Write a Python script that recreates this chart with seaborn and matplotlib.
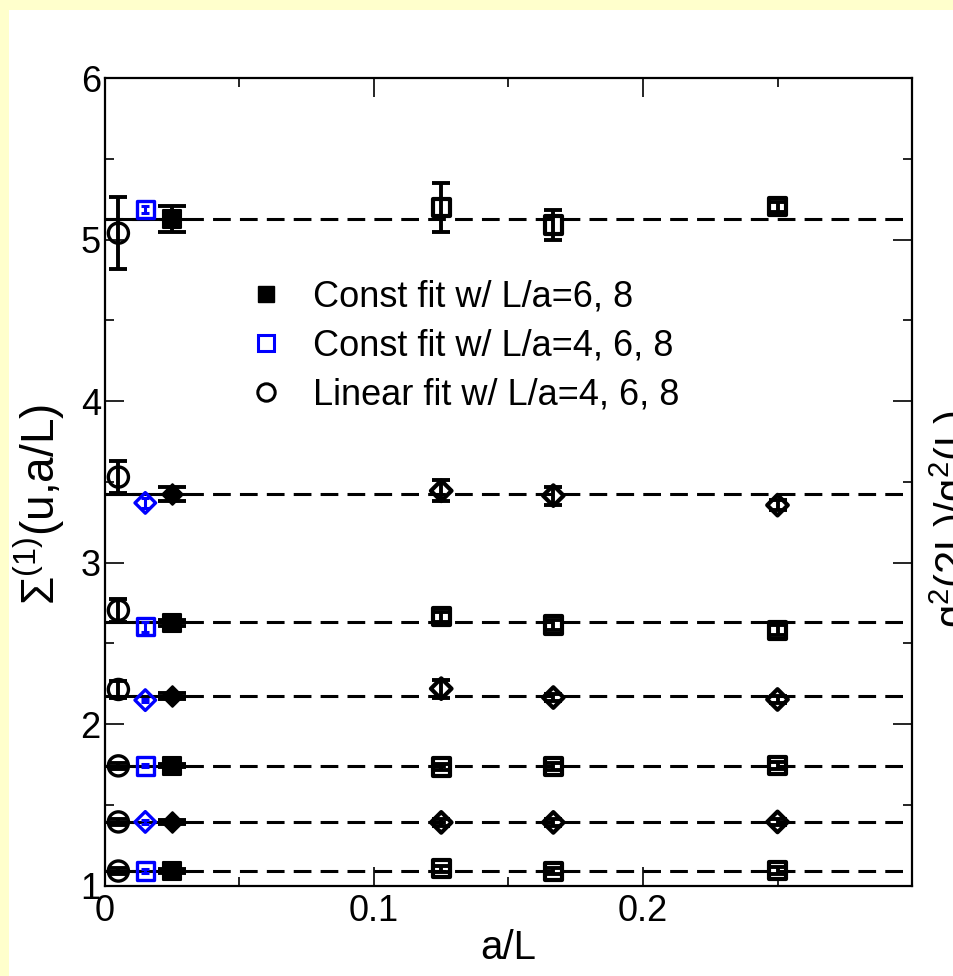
import numpy as np
import pandas as pd
import seaborn as sns
import matplotlib
matplotlib.use('Agg')
import matplotlib.pyplot as plt
from matplotlib.patches import Rectangle
from matplotlib.ticker import MultipleLocator

# x positions of the extrapolated points and of the lattice sizes
x_lin = 0.005
x_c468 = 0.015
x_c68 = 0.025
x_aL = [1 / 8, 1 / 6, 1 / 4]

# constant-fit values (dashed lines), one per coupling
fit_line = [5.125, 3.424, 2.630, 2.173, 1.742, 1.395, 1.091]

# linear fit w/ L/a=4,6,8
lin_val = [5.04, 3.53, 2.705, 2.215, 1.742, 1.395, 1.091]
lin_err = [0.223, 0.10, 0.07, 0.055, 0.02, 0.02, 0.02]

# const fit w/ L/a=4,6,8 (blue)
c468_val = [5.185, 3.37, 2.603, 2.149, 1.742, 1.395, 1.091]
c468_err = [0.02, 0.03, 0.03, 0.01, 0.01, 0.01, 0.01]

# const fit w/ L/a=6,8 (filled)
c68_val = [5.125, 3.424, 2.627, 2.173, 1.742, 1.395, 1.091]
c68_err = [0.08, 0.045, 0.02, 0.02, 0.01, 0.01, 0.01]

# lattice data at a/L = 1/8, 1/6, 1/4
sigma_val = [
    [5.20, 5.09, 5.203],
    [3.445, 3.415, 3.356],
    [2.665, 2.613, 2.582],
    [2.22, 2.165, 2.153],
    [1.735, 1.738, 1.745],
    [1.392, 1.392, 1.395],
    [1.105, 1.09, 1.094],
]
sigma_err = [
    [0.15, 0.095, 0.03],
    [0.065, 0.055, 0.03],
    [0.03, 0.03, 0.03],
    [0.055, 0.02, 0.02],
    [0.02, 0.02, 0.02],
    [0.02, 0.02, 0.02],
    [0.02, 0.02, 0.02],
]
row_marker = ['s', 'D', 's', 'D', 's', 'D', 's']

sns.set_style('ticks')
plt.rcParams['font.family'] = ['Liberation Sans', 'DejaVu Sans']
plt.rcParams['mathtext.fontset'] = 'custom'
plt.rcParams['mathtext.rm'] = 'Liberation Sans'
plt.rcParams['mathtext.it'] = 'Liberation Sans:italic'
plt.rcParams['font.size'] = 26
plt.rcParams['text.color'] = 'black'
plt.rcParams['axes.labelcolor'] = 'black'
plt.rcParams['xtick.color'] = 'black'
plt.rcParams['ytick.color'] = 'black'

fig = plt.figure(figsize=(9.54, 9.76), dpi=100, facecolor='#FFFFCC')
fig.patches.append(Rectangle((9 / 954, 0), 1, 1 - 10 / 976, transform=fig.transFigure,
                             facecolor='white', edgecolor='none', zorder=-10))
ax = fig.add_axes([0.110, 0.0925, 0.846, 0.8275])

BLUE = '#0000FF'
rows = []
for i in range(len(fit_line)):
    for xv, yv in zip(x_aL, sigma_val[i]):
        rows.append({'x': xv, 'y': yv, 'row': i})
df = pd.DataFrame(rows)

for i, fv in enumerate(fit_line):
    ax.plot([0, 0.3], [fv, fv], color='black', lw=2.2, ls=(0, (5.8, 3.0)), zorder=1)
    ax.plot([0, 0.03], [fv, fv], color='black', lw=2.2, zorder=1)
    m = row_marker[i]
    ms = 12.5 if m == 's' else 10.5

    # lattice data, open black markers
    ax.errorbar(x_aL, sigma_val[i], yerr=sigma_err[i], fmt='none', ecolor='black',
                elinewidth=2.8, capsize=6.5, capthick=2.8, zorder=2)
    sns.scatterplot(data=df[df['row'] == i], x='x', y='y', marker=m, s=ms ** 2,
                    facecolor='none', edgecolor='black', linewidth=3.0, ax=ax,
                    zorder=3, legend=False)

    # linear fit extrapolation
    ax.errorbar([x_lin], [lin_val[i]], yerr=[lin_err[i]], fmt='none', ecolor='black',
                elinewidth=2.8, capsize=6.5, capthick=2.8, zorder=2)
    sns.scatterplot(x=[x_lin], y=[lin_val[i]], marker='o', s=14.5 ** 2, facecolor='none',
                    edgecolor='black', linewidth=2.4, ax=ax, zorder=3, legend=False)

    # const fit 4,6,8 (blue)
    ax.errorbar([x_c468], [c468_val[i]], yerr=[c468_err[i]], fmt='none', ecolor=BLUE,
                elinewidth=2.2, capsize=3, capthick=2.2, zorder=2)
    sns.scatterplot(x=[x_c468], y=[c468_val[i]], marker=m, s=ms ** 2, facecolor='none',
                    edgecolor=BLUE, linewidth=2.4, ax=ax, zorder=3, legend=False)

    # const fit 6,8 (filled)
    ax.errorbar([x_c68], [c68_val[i]], yerr=[c68_err[i]], fmt='none', ecolor='black',
                elinewidth=2.8, capsize=10, capthick=2.8, zorder=2)
    sns.scatterplot(x=[x_c68], y=[c68_val[i]], marker=m, s=ms ** 2, color='black',
                    edgecolor='black', linewidth=1.5, ax=ax, zorder=3, legend=False)

# legend
h1 = ax.plot([], [], 's', ms=12, color='black', label='Const fit w/ L/a=6, 8')[0]
h2 = ax.plot([], [], 's', ms=11.5, mfc='none', mec=BLUE, mew=2.2, label='Const fit w/ L/a=4, 6, 8')[0]
h3 = ax.plot([], [], 'o', ms=12.5, mfc='none', mec='black', mew=2.2, label='Linear fit w/ L/a=4, 6, 8')[0]
ax.legend(handles=[h1, h2, h3], loc='upper left', bbox_to_anchor=(0.177, 0.750),
          frameon=False, fontsize=26, handlelength=1.0, handletextpad=0.8,
          borderpad=0, borderaxespad=0, labelspacing=0.38)

ax.set_xlim(0, 0.3)
ax.set_ylim(1, 6)
ax.xaxis.set_minor_locator(MultipleLocator(0.05))
ax.yaxis.set_major_locator(MultipleLocator(1))
ax.yaxis.set_minor_locator(MultipleLocator(0.5))
ax.set_xticks([0, 0.1, 0.2])
ax.set_xticklabels(['0', '0.1', '0.2'])
ax.tick_params(which='both', direction='in', top=True, right=True, width=1.2)
ax.tick_params(which='major', length=13.5, labelsize=26)
ax.tick_params(which='minor', length=6.8)
ax.tick_params(axis='x', pad=6)
ax.tick_params(axis='y', pad=3)
for sp in ax.spines.values():
    sp.set_linewidth(1.6)
    sp.set_color('black')

ax.set_xlabel('a/L', fontsize=29, labelpad=0)
ax.set_ylabel(r'$\mathregular{\Sigma^{(1)}}$(u,a/L)', fontsize=33)
ax.yaxis.set_label_coords(-0.047, 0.472)

fig.text(928 / 954, 0.468, r'$\mathregular{g^2(2L)/g^2(L)}$', rotation=90,
         ha='left', va='center', fontsize=30)

fig.savefig('out.png', dpi=100, facecolor=fig.get_facecolor())
